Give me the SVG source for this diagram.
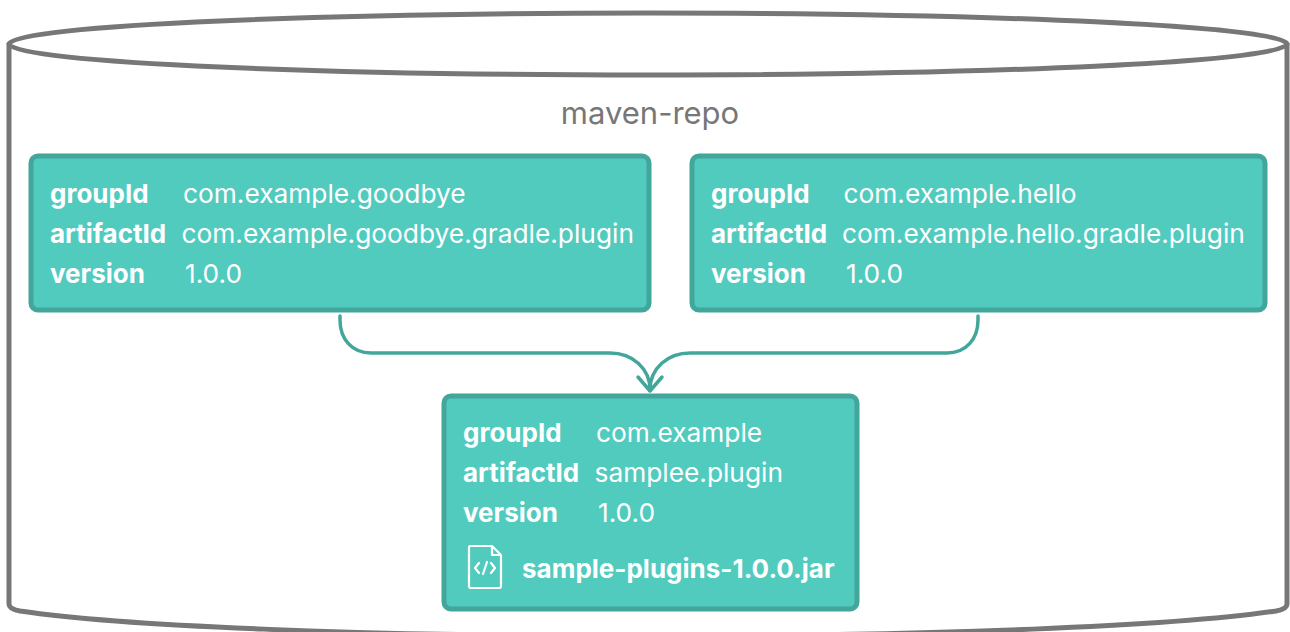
<svg xmlns="http://www.w3.org/2000/svg" width="1290" height="632" viewBox="0 0 1290 632">
<style>
.box{fill:#52cbbf;stroke:#42a69b;stroke-width:5}
.t{font-family:Inter,"Liberation Sans",sans-serif;font-size:26.3px;fill:#fff}
.b{font-weight:700;font-size:26px}
.conn{fill:none;stroke:#42a69b;stroke-width:3.5;stroke-linecap:round;stroke-linejoin:round}
.cyl{fill:#fff;stroke:#777;stroke-width:5}
</style>
<rect width="1290" height="632" fill="#fff"/>
<g id="repo">
<path class="cyl" d="M9 43V604Q9 609 20 611C120 626 360 636 648 636S1176 626 1276 611Q1287 609 1287 604V43"/>
<ellipse class="cyl" cx="648" cy="44" rx="639" ry="31"/>
<text x="650" y="124" text-anchor="middle" style="font-family:Inter,'Liberation Sans',sans-serif;font-size:31px;fill:#777">maven-repo</text>
</g>
<g id="connectors">
<path class="conn" d="M340 316V320C340 339 352 353 371 353H610C632 353 650 368 650 390"/>
<path class="conn" d="M978 316V320C978 339 966 353 947 353H690C668 353 650 368 650 390"/>
<path class="conn" d="M638 377L650 391L662 377"/>
</g>
<g id="goodbye">
<rect class="box" x="31" y="156" width="618" height="154" rx="7"/>
<text class="t b" x="50" y="203">groupId</text><text class="t" x="183" y="203">com.example.goodbye</text>
<text class="t b" x="50" y="243">artifactId</text><text class="t" x="181.5" y="243">com.example.goodbye.gradle.plugin</text>
<text class="t b" x="50" y="283">version</text><text class="t" x="185" y="283">1.0.0</text>
</g>
<g id="hello">
<rect class="box" x="692" y="156" width="573" height="154" rx="7"/>
<text class="t b" x="711" y="203">groupId</text><text class="t" x="843.5" y="203">com.example.hello</text>
<text class="t b" x="711" y="243">artifactId</text><text class="t" x="842" y="243">com.example.hello.gradle.plugin</text>
<text class="t b" x="711" y="283">version</text><text class="t" x="846" y="283">1.0.0</text>
</g>
<g id="sample">
<rect class="box" x="444" y="396" width="413" height="213" rx="7"/>
<text class="t b" x="463" y="442">groupId</text><text class="t" x="596" y="442">com.example</text>
<text class="t b" x="463" y="482">artifactId</text><text class="t" x="594.5" y="482">samplee.plugin</text>
<text class="t b" x="463" y="522">version</text><text class="t" x="598" y="522">1.0.0</text>
<g fill="none" stroke="#fff" stroke-width="2.2" stroke-linecap="round" stroke-linejoin="round">
<path d="M470 546H492L501 555V586Q501 588 499 588H471Q469 588 469 586V548Q469 546 470 546Z"/>
<path d="M492 547V555H500"/>
<path d="M479 563L475 568L479 573M491 563L495 568L491 573M487 562L483 574"/>
</g>
<text class="t b" x="522" y="578">sample-plugins-1.0.0.jar</text>
</g>
</svg>
